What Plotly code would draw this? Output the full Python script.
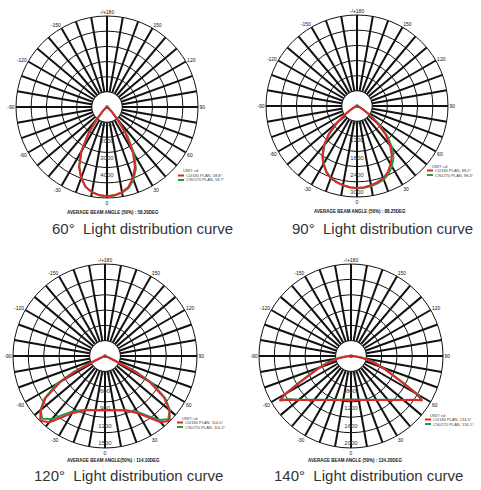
import plotly.graph_objects as go

# ---------------- data ----------------
THETA_A = [-90, -80, -70, -60, -55, -50, -45, -40, -35, -30, -25, -20, -15, -10, -5,
           0, 5, 10, 15, 20, 25, 30, 35, 40, 45, 50, 55, 60, 70, 80, 90]
RED_60 = [0, 10, 20, 50, 90, 150, 380, 900, 1900, 3000, 3850, 4400, 4820, 5030, 5150,
          5200, 5150, 5030, 4820, 4400, 3850, 3000, 1900, 900, 380, 150, 90, 50, 20, 10, 0]
GREEN_60 = [0, 10, 20, 50, 90, 150, 360, 870, 1850, 2950, 3820, 4400, 4820, 5040, 5160,
            5210, 5170, 5070, 4890, 4500, 3980, 3180, 2080, 1000, 420, 160, 90, 50, 20, 10, 0]

RED_90 = [0, 20, 60, 230, 500, 920, 1400, 1780, 2100, 2330, 2520, 2660, 2730, 2780, 2820,
          2840, 2820, 2780, 2730, 2660, 2520, 2330, 2100, 1780, 1400, 920, 500, 230, 60, 20, 0]
GREEN_90 = [0, 20, 55, 210, 470, 880, 1350, 1740, 2060, 2300, 2500, 2650, 2730, 2790, 2830,
            2850, 2840, 2810, 2770, 2710, 2590, 2420, 2200, 1890, 1500, 1020, 560, 250, 70, 20, 0]

THETA_120 = [-90, -80, -70, -66, -63, -60, -55, -50, -45, -40, -35, -30, -20, -10,
             0, 10, 20, 30, 35, 40, 45, 50, 55, 60, 63, 66, 70, 80, 90]
RED_120 = [0, 0, 30, 95, 520, 870, 1230, 1440, 1570, 1480, 1280, 1130, 990, 945,
           930, 945, 990, 1130, 1280, 1480, 1570, 1440, 1230, 870, 520, 95, 30, 0, 0]
GREEN_120 = [0, 0, 40, 180, 600, 950, 1260, 1440, 1520, 1410, 1220, 1090, 980, 945,
             930, 945, 985, 1100, 1240, 1430, 1530, 1450, 1260, 940, 600, 170, 40, 0, 0]

THETA_140 = [-90, -85, -80, -74, -68, -63, -60, -58, -55, -50, -45, -40, -30, -20, -10,
             0, 10, 20, 30, 40, 45, 50, 55, 58, 60, 63, 68, 74, 80, 85, 90]
RED_140 = [0, 110, 270, 535, 850, 1270, 1720, 1920, 1740, 1560, 1420, 1310, 1160, 1070, 1020,
           1000, 1020, 1070, 1160, 1310, 1420, 1560, 1740, 1920, 1720, 1270, 850, 535, 270, 110, 0]
GREEN_140 = [0, 130, 300, 580, 900, 1330, 1760, 1880, 1720, 1550, 1410, 1300, 1150, 1065, 1015,
             995, 1015, 1065, 1150, 1300, 1410, 1560, 1750, 1900, 1780, 1330, 900, 580, 300, 130, 0]

RADIAL_MAX = [5300, 3150, 1575, 2100]
RADIAL_LABELS = [[0, 1000, 2000, 3000, 4000],
                 [0, 600, 1200, 1800, 2400, 3000],
                 [0, 300, 600, 900, 1200, 1500],
                 [0, 400, 800, 1200, 1600, 2000]]

LABELED_ANGLES = [0, 30, 60, 90, 120, 150, 180, 210, 240, 270, 300, 330]
ANGLE_TEXT = ["0", "30", "60", "90", "120", "150", "-/+180", "-150", "-120", "-90", "-60", "-30"]

CAPTIONS = ["60°  Light distribution curve", "90°  Light distribution curve",
            "120°  Light distribution curve", "140°  Light distribution curve"]
BEAM_TEXT = ["AVERAGE BEAM ANGLE (50%) : 58.20DEG", "AVERAGE BEAM ANGLE (50%) : 88.25DEG",
             "AVERAGE BEAM ANGLE(50%) : 114.10DEG", "AVERAGE BEAM ANGLE (50%) : 134.20DEG"]
LEGEND_RED = ["C0/180 PLAN, 58.8°", "C0/180 PLAN, 88.2°", "C0/180 PLAN, 114.0°", "C0/180 PLAN, 134.3°"]
LEGEND_GREEN = ["C90/270 PLAN, 58.7°", "C90/270 PLAN, 88.3°", "C90/270 PLAN, 114.2°", "C90/270 PLAN, 134.1°"]

SERIES = [(THETA_A, RED_60, GREEN_60), (THETA_A, RED_90, GREEN_90),
          (THETA_120, RED_120, GREEN_120), (THETA_140, RED_140, GREEN_140)]

# ---------------- layout helpers ----------------
W, H = 481, 490
CENTERS = [(107, 107, 91), (357, 106, 91), (105, 356, 92), (351, 356, 92)]
LEGEND_POS = [(178, 171), (427, 166), (177, 418), (425, 415)]
CAPTION_POS = [(142, 228), (382, 228), (128, 475), (368, 475)]
BEAM_POS = [(113, 212), (360, 211), (113, 460), (355, 460)]

RED = "#e0262b"
GREEN = "#1f9a4a"
FONT = "Liberation Sans, Arial, sans-serif"


def px(x):
    return x / W


def py(y):
    return 1 - y / H


fig = go.Figure()
layout = dict(width=W, height=H, margin=dict(l=0, r=0, t=0, b=0),
              paper_bgcolor="white", showlegend=False)
annotations = []
shapes = []

for i in range(4):
    name = "polar" if i == 0 else f"polar{i + 1}"
    sub = name
    cx, cy, R = CENTERS[i]
    rmax = RADIAL_MAX[i]
    rings = [rmax * k / 6 for k in range(1, 6)]
    hole = rings[0]
    layout[name] = dict(
        domain=dict(x=[px(cx - R), px(cx + R)], y=[py(cy + R), py(cy - R)]),
        bgcolor="white",
        angularaxis=dict(rotation=-90, direction="counterclockwise",
                         tickmode="array", tickvals=list(range(0, 360, 10)),
                         ticktext=[ANGLE_TEXT[LABELED_ANGLES.index(a)] if a in LABELED_ANGLES else ""
                                   for a in range(0, 360, 10)],
                         showgrid=True, gridcolor="#111", gridwidth=2.4,
                         showline=True, linecolor="#111", linewidth=1,
                         ticks="", tickfont=dict(size=5, color="#111", family=FONT),
                         layer="below traces"),
        radialaxis=dict(range=[0, rmax], tickmode="array", tickvals=rings,
                        showticklabels=False, ticks="", showline=False,
                        showgrid=True, gridcolor="#111", gridwidth=1.1,
                        layer="below traces"),
    )
    theta, red, green = SERIES[i]
    circ_t = list(range(0, 361, 5))
    fig.add_trace(go.Scatterpolar(r=[hole] * len(circ_t), theta=circ_t, mode="lines",
                                  fill="toself", fillcolor="white",
                                  line=dict(color="#111", width=1), subplot=sub,
                                  hoverinfo="skip"))
    fig.add_trace(go.Scatterpolar(r=green, theta=theta, mode="lines",
                                  line=dict(color=GREEN, width=2), subplot=sub))
    fig.add_trace(go.Scatterpolar(r=red, theta=theta, mode="lines",
                                  line=dict(color=RED, width=2), subplot=sub))
    labs = RADIAL_LABELS[i]
    fig.add_trace(go.Scatterpolar(r=labs, theta=[0] * len(labs), mode="text",
                                  text=[str(v) for v in labs],
                                  textfont=dict(size=6, color="#333", family=FONT),
                                  subplot=sub, hoverinfo="skip"))

    x, y = CAPTION_POS[i]
    annotations.append(dict(x=px(x), y=py(y), xref="paper", yref="paper", showarrow=False,
                            text=CAPTIONS[i], font=dict(size=15, color="#333", family=FONT),
                            xanchor="center", yanchor="middle"))
    x, y = BEAM_POS[i]
    annotations.append(dict(x=px(x), y=py(y), xref="paper", yref="paper", showarrow=False,
                            text="<b>" + BEAM_TEXT[i] + "</b>",
                            font=dict(size=4.5, color="#111", family=FONT),
                            xanchor="center", yanchor="middle"))
    lx, ly = LEGEND_POS[i]
    annotations.append(dict(x=px(lx + 3), y=py(ly), xref="paper", yref="paper", showarrow=False,
                            text="UNIT: cd", font=dict(size=4, color="#444", family=FONT),
                            xanchor="left", yanchor="middle"))
    for j, (txt, col) in enumerate([(LEGEND_RED[i], RED), (LEGEND_GREEN[i], GREEN)]):
        yy = ly + 4.5 * (j + 1)
        shapes.append(dict(type="line", xref="paper", yref="paper",
                           x0=px(lx), x1=px(lx + 6), y0=py(yy), y1=py(yy),
                           line=dict(color=col, width=2)))
        annotations.append(dict(x=px(lx + 6), y=py(yy), xref="paper", yref="paper",
                                showarrow=False, text=txt,
                                font=dict(size=4, color="#444", family=FONT),
                                xanchor="left", yanchor="middle"))

layout["annotations"] = annotations
layout["shapes"] = shapes
fig.update_layout(**layout)
fig.write_html("out.html", config={"displayModeBar": False},
               post_script="document.body.style.margin='0';")
